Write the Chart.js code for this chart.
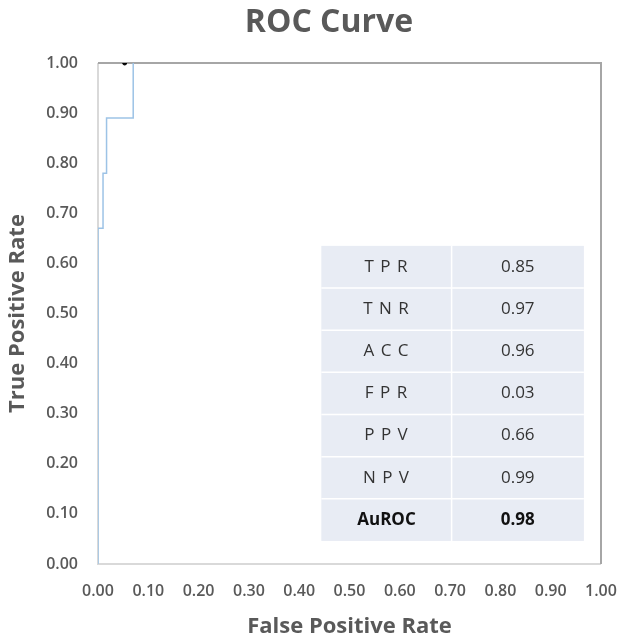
<!DOCTYPE html>
<html>
<head>
<meta charset="utf-8">
<script src="https://cdn.jsdelivr.net/npm/chart.js@4"></script>
<style>
  html, body { margin: 0; padding: 0; background: #fff; }
  #wrap { width: 638px; height: 640px; }
</style>
</head>
<body>
<div id="wrap"><canvas id="roc"></canvas></div>
<script>
// ROC curve points (False Positive Rate, True Positive Rate)
const fpr = [0, 0, 0.01, 0.01, 0.017, 0.017, 0.07, 0.07];
const tpr = [0, 0.67, 0.67, 0.78, 0.78, 0.89, 0.89, 1.0];

// summary metrics table
const metricNames = ['T P R', 'T N R', 'A C C', 'F P R', 'P P V', 'N P V', 'AuROC'];
const metricValues = ['0.85', '0.97', '0.96', '0.03', '0.66', '0.99', '0.98'];

const TEXT = '#595959';
const FONT = "'Open Sans', 'Noto Sans', sans-serif";

// title sits a little right of canvas centre, like the original
const chartTitle = {
    id: 'chartTitle',
    afterDraw(chart) {
        const { ctx } = chart;
        ctx.save();
        ctx.font = 'bold 32px ' + FONT;
        ctx.fillStyle = TEXT;
        ctx.textAlign = 'center';
        ctx.textBaseline = 'middle';
        ctx.fillText('ROC Curve', 329, 23);
        ctx.restore();
    }
};

// box around plot: light left/bottom, darker top/right (under the curve)
const frame = {
    id: 'frame',
    beforeDatasetsDraw(chart) {
        const { ctx, chartArea: a } = chart;
        ctx.save();
        ctx.lineWidth = 2;
        ctx.strokeStyle = '#d9d9d9';
        ctx.beginPath();
        ctx.moveTo(a.left, a.top);
        ctx.lineTo(a.left, a.bottom);
        ctx.lineTo(a.right, a.bottom);
        ctx.stroke();
        ctx.strokeStyle = '#a6a6a6';
        ctx.beginPath();
        ctx.moveTo(a.left, a.top);
        ctx.lineTo(a.right, a.top);
        ctx.lineTo(a.right, a.bottom);
        ctx.stroke();
        ctx.restore();
    }
};

// metrics table drawn inside plot, placed in data coordinates
const metricsTable = {
    id: 'metricsTable',
    afterDatasetsDraw(chart) {
        const { ctx, scales: { x, y } } = chart;
        const left = x.getPixelForValue(0.444);
        const right = x.getPixelForValue(0.966);
        const mid = x.getPixelForValue(0.703);
        const top = y.getPixelForValue(0.635);
        const bottom = y.getPixelForValue(0.046);
        const rowH = (bottom - top) / metricNames.length;
        ctx.save();
        ctx.fillStyle = '#e8ecf4';
        ctx.fillRect(left, top, right - left, bottom - top);
        ctx.strokeStyle = '#ffffff';
        ctx.lineWidth = 1.5;
        ctx.beginPath();
        for (let i = 1; i < metricNames.length; i++) {
            ctx.moveTo(left, top + rowH * i);
            ctx.lineTo(right, top + rowH * i);
        }
        ctx.moveTo(mid, top);
        ctx.lineTo(mid, bottom);
        ctx.stroke();
        ctx.textAlign = 'center';
        ctx.textBaseline = 'middle';
        metricNames.forEach((name, i) => {
            const bold = name === 'AuROC';
            ctx.font = (bold ? 'bold ' : '') + '17px ' + FONT;
            ctx.fillStyle = bold ? '#111' : '#333';
            const cy = top + rowH * (i + 0.5);
            ctx.letterSpacing = bold ? '0px' : '1px';
            ctx.fillText(name, (left + mid) / 2, cy);
            ctx.letterSpacing = '0px';
            ctx.fillText(metricValues[i], (mid + right) / 2, cy);
        });
        ctx.restore();
    }
};

const tickFmt = v => Number(v).toFixed(2);

new Chart(document.getElementById('roc'), {
    type: 'line',
    data: {
        datasets: [
            {
                label: 'ROC',
                data: fpr.map((v, i) => ({ x: v, y: tpr[i] })),
                borderColor: '#9dc3e6',
                borderWidth: 1.5,
                pointRadius: 0,
                fill: false,
                tension: 0,
            },
            {
                label: 'mark',
                data: [{ x: 0.053, y: 1.0 }],
                pointRadius: 2,
                pointBackgroundColor: '#000',
                pointBorderColor: '#000',
                showLine: false,
            },
        ],
    },
    options: {
        responsive: true,
        maintainAspectRatio: false,
        animation: false,
        layout: { padding: { left: 0, right: 37, top: 63, bottom: 0 } },
        plugins: {
            legend: { display: false },
            tooltip: { enabled: false },
            title: { display: false },
        },
        scales: {
            x: {
                type: 'linear',
                min: 0,
                max: 1,
                grid: { display: false, drawTicks: false },
                border: { display: false },
                ticks: {
                    stepSize: 0.1,
                    padding: 18,
                    color: TEXT,
                    maxRotation: 0,
                    font: { family: FONT, size: 16, weight: '600' },
                    callback: tickFmt,
                },
                title: {
                    display: true,
                    text: 'False Positive Rate',
                    color: TEXT,
                    font: { family: FONT, size: 22, weight: 'bold' },
                    padding: { top: 10, bottom: 0 },
                },
                afterFit(scale) { scale.height = 76; },
            },
            y: {
                type: 'linear',
                min: 0,
                max: 1,
                grid: { display: false, drawTicks: false },
                border: { display: false },
                ticks: {
                    stepSize: 0.1,
                    padding: 20,
                    color: TEXT,
                    font: { family: FONT, size: 16, weight: '600' },
                    callback: tickFmt,
                },
                title: {
                    display: true,
                    text: 'True Positive Rate',
                    color: TEXT,
                    font: { family: FONT, size: 22, weight: 'bold' },
                    padding: { top: 5, bottom: 4 },
                },
                afterFit(scale) { scale.width = 98; },
            },
        },
    },
    plugins: [frame, metricsTable, chartTitle],
});
</script>
</body>
</html>
